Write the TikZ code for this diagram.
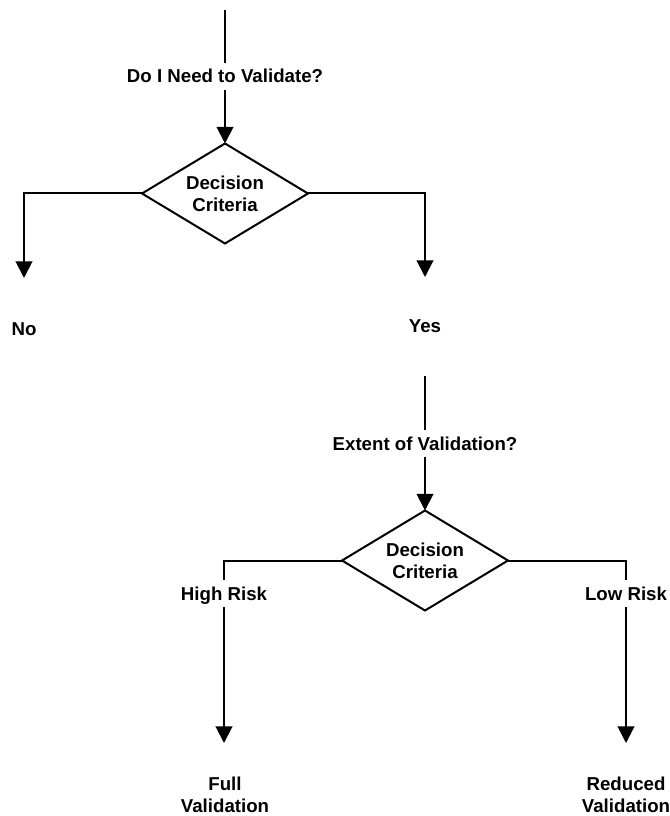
\documentclass[tikz,border=0pt]{standalone}
\usepackage{fontspec}
\setmainfont{Liberation Sans}
\usetikzlibrary{shapes.geometric,arrows.meta}

\tikzset{
  txt/.style={font=\bfseries\fontsize{14pt}{16.5pt}\selectfont},
  lbl/.style={txt, inner xsep=2pt, inner ysep=5pt, text height=10pt, text depth=0pt, anchor=base},
  result/.style={txt, align=center, inner sep=0pt, anchor=north},
  decision/.style={txt, draw, line width=1.5pt, shape=diamond, aspect=1.66, align=center,
    minimum width=124.5pt, minimum height=75pt, inner sep=0pt, outer sep=0pt},
  wire/.style={line width=1.5pt},
  flow/.style={wire, -{Triangle[width=12.5pt,length=12.5pt]}}
}

\begin{document}
\begin{tikzpicture}[x=0.75pt, y=-0.75pt]
  \useasboundingbox (0,0) rectangle (669,816);

  % first decision: whether validation is needed
  \coordinate (in1) at (225,10);
  \node[lbl] (q1) at (225,83) {Do I Need to Validate?};
  \node[decision] (d1) at (225,193.5) {Decision\\Criteria};
  \coordinate (noTip) at (24,278);
  \coordinate (yesTip) at (425,277);
  \node[lbl] (no) at (24,335) {No};
  \node[lbl] (yes) at (425,332.5) {Yes};

  \draw[wire] (in1) -- (q1);
  \draw[flow] (q1) -- (d1);
  \draw[flow] (d1.west) -| (noTip);
  \draw[flow] (d1.east) -| (yesTip);

  % second decision: how much validation
  \coordinate (in2) at (425,376);
  \node[lbl] (q2) at (425,450) {Extent of Validation?};
  \node[decision] (d2) at (425,560.5) {Decision\\Criteria};
  \node[lbl] (high) at (224,600) {High Risk};
  \node[lbl] (low) at (626,600) {Low Risk};
  \coordinate (fullTip) at (224,743);
  \coordinate (redTip) at (626,743);
  \node[result] (full) at (225,776.5) {Full\\Validation};
  \node[result] (reduced) at (626,776.5) {Reduced\\Validation};

  \draw[wire] (in2) -- (q2);
  \draw[flow] (q2) -- (d2);
  \draw[wire] (d2.west) -| (high);
  \draw[wire] (d2.east) -| (low);
  \draw[flow] (high) -- (fullTip);
  \draw[flow] (low) -- (redTip);
\end{tikzpicture}
\end{document}
